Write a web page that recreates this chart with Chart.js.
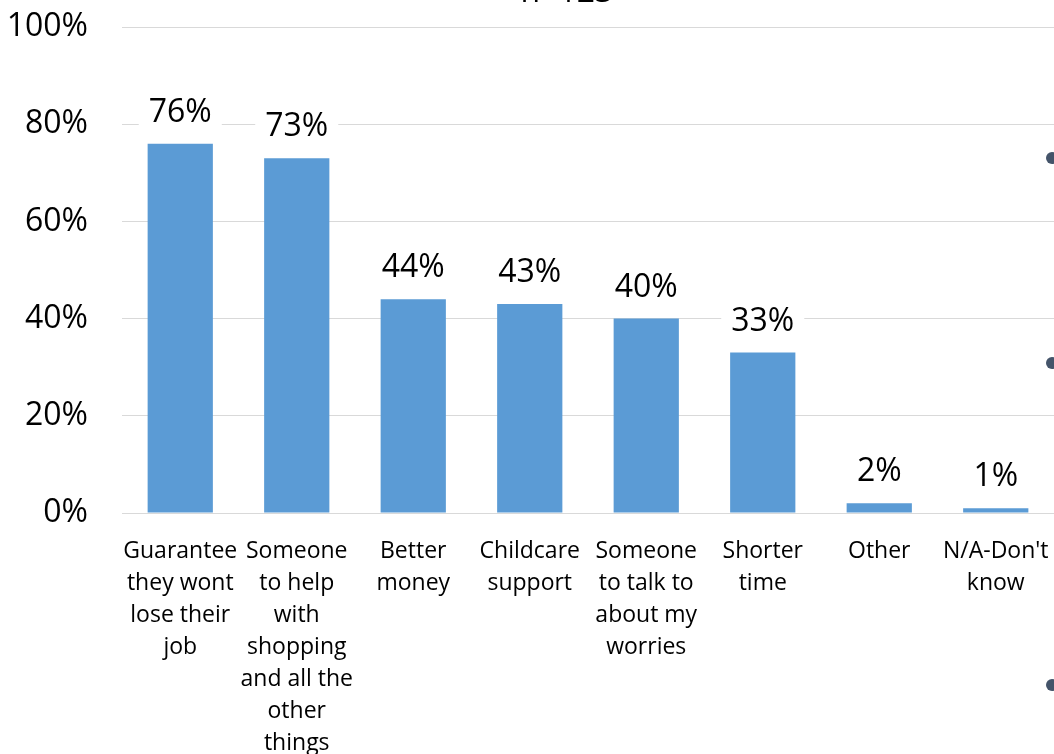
<!DOCTYPE html>
<html>
<head>
<meta charset="utf-8">
<title>What would help</title>
<script src="https://cdn.jsdelivr.net/npm/chart.js@4"></script>
<style>
  html, body { margin: 0; padding: 0; background: #fff; }
  #wrap { width: 1054px; height: 754px; overflow: hidden; }
</style>
</head>
<body>
<div id="wrap"><canvas id="chart" width="1054" height="754"></canvas></div>
<script>
const categories = [
  ["Guarantee", "they wont", "lose their", "job"],
  ["Someone", "to help", "with", "shopping", "and all the", "other", "things"],
  ["Better", "money"],
  ["Childcare", "support"],
  ["Someone", "to talk to", "about my", "worries"],
  ["Shorter", "time"],
  ["Other"],
  ["N/A-Don't", "know"]
];
const values = [76, 73, 44, 43, 40, 33, 2, 1];
const yTicks = [0, 20, 40, 60, 80, 100];
const sampleNote = "n=123";
const bulletRows = [158, 363, 685];

const FONT = "'Open Sans', 'DejaVu Sans', sans-serif";
const BAR_BLUE = "#5b9bd5";

// value labels sit on a white box so the gridlines don't run through them
const valueLabels = {
  id: "valueLabels",
  afterDatasetsDraw(chart) {
    const ctx = chart.ctx;
    const meta = chart.getDatasetMeta(0);
    ctx.save();
    ctx.font = "32px " + FONT;
    ctx.textAlign = "center";
    ctx.textBaseline = "alphabetic";
    meta.data.forEach((bar, i) => {
      const txt = values[i] + "%";
      const w = ctx.measureText(txt).width;
      const base = bar.y - 22;
      ctx.fillStyle = "#fff";
      ctx.fillRect(bar.x - w / 2 - 10, base - 30, w + 20, 38);
      ctx.fillStyle = "#000";
      ctx.fillText(txt, bar.x, base);
    });
    ctx.restore();
  }
};

// sample size line at the very top and the slide bullets on the right edge
const extras = {
  id: "extras",
  afterDraw(chart) {
    const ctx = chart.ctx;
    ctx.save();
    ctx.font = "32px " + FONT;
    ctx.fillStyle = "#000";
    ctx.textAlign = "center";
    ctx.textBaseline = "alphabetic";
    ctx.fillText(sampleNote, 567, 2);
    ctx.fillStyle = "#44546a";
    bulletRows.forEach(y => {
      ctx.beginPath();
      ctx.arc(1052, y, 6, 0, Math.PI * 2);
      ctx.fill();
    });
    ctx.restore();
  }
};

new Chart(document.getElementById("chart"), {
  type: "bar",
  data: {
    labels: categories,
    datasets: [{
      data: values,
      backgroundColor: BAR_BLUE,
      barPercentage: 0.56,
      categoryPercentage: 1
    }]
  },
  options: {
    responsive: false,
    animation: false,
    layout: { padding: { top: 27, right: 0, bottom: 0, left: 0 } },
    plugins: {
      legend: { display: false },
      tooltip: { enabled: false }
    },
    scales: {
      x: {
        grid: { display: false },
        border: { display: false },
        ticks: {
          color: "#000",
          font: { family: FONT, size: 23, lineHeight: "32px" },
          padding: 14,
          maxRotation: 0,
          autoSkip: false
        },
        afterFit(scale) {
          scale.height = 241;
          scale.paddingLeft = 0;
          scale.paddingRight = 0;
        }
      },
      y: {
        min: yTicks[0],
        max: yTicks[yTicks.length - 1],
        afterBuildTicks(scale) {
          scale.ticks = yTicks.map(v => ({ value: v }));
        },
        grid: { color: "#d9d9d9", lineWidth: 1, drawTicks: false },
        border: { display: false },
        ticks: {
          color: "#000",
          font: { family: FONT, size: 32 },
          padding: 34,
          callback: v => v + "%"
        },
        afterFit(scale) {
          scale.width = 122;
          scale.paddingTop = 0;
          scale.paddingBottom = 0;
        }
      }
    }
  },
  plugins: [valueLabels, extras]
});
</script>
</body>
</html>
